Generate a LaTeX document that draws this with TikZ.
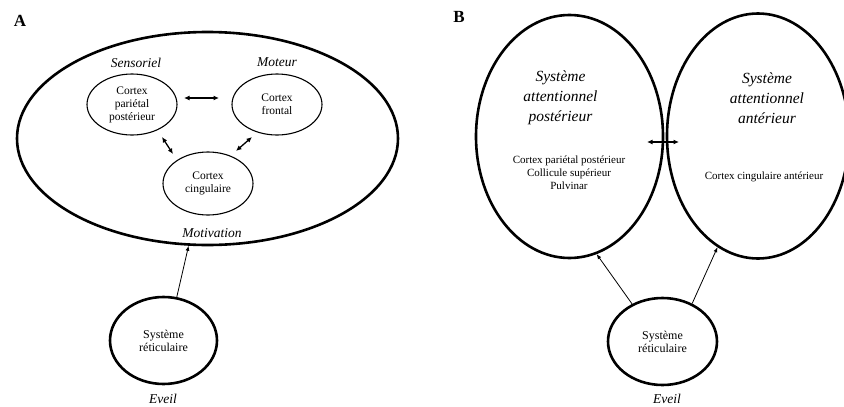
\documentclass[tikz,border=0pt]{standalone}
\usepackage{fontspec}
\setmainfont{Liberation Serif}
\usetikzlibrary{shapes.geometric,arrows.meta}
\begin{document}
\begin{tikzpicture}[x=1pt,y=-1pt,
  bigell/.style={ellipse,draw,line width=2.6pt,inner sep=0pt},
  smallell/.style={ellipse,draw,line width=1.1pt,inner sep=0pt,align=center,font=\fontsize{11.5}{13}\selectfont},
  retic/.style={ellipse,draw,line width=2.6pt,inner sep=0pt,align=center,font=\fontsize{12}{13}\selectfont},
  lab/.style={font=\fontsize{13.5}{16}\selectfont\itshape},
  biglab/.style={align=center,font=\fontsize{15.5}{20}\selectfont\itshape},
  smalltxt/.style={align=center,font=\fontsize{11}{12.8}\selectfont},
  panel/.style={font=\fontsize{17}{20}\selectfont\bfseries},
  arr/.style={-{Latex[length=5pt,width=4pt]},line width=0.8pt},
  darr/.style={{Latex[length=5.5pt,width=5pt]}-{Latex[length=5.5pt,width=5pt]},line width=1.3pt}]
\useasboundingbox (0,0) rectangle (844,407);

% ---------- Panel A ----------
\node[panel] (labA) at (20,21) {A};
\node[bigell,minimum width=381pt,minimum height=213pt] (bigA) at (207.5,138.5) {};
\node[smallell,minimum width=90pt,minimum height=61pt] (par) at (132,104.5) {Cortex\\pariétal\\postérieur};
\node[smallell,minimum width=90pt,minimum height=61pt] (fro) at (277,104.5) {Cortex\\frontal};
\node[smallell,minimum width=90pt,minimum height=63pt] (cin) at (208,183.5) {Cortex\\cingulaire};
\node[lab] (sens) at (136,63) {Sensoriel};
\node[lab] (mot) at (277,62) {Moteur};
\node[lab] (motiv) at (212,233) {Motivation};
\coordinate (h1) at (184,98);
\coordinate (h2) at (219,98);
\coordinate (d1) at (162,137);
\coordinate (d2) at (173,154);
\coordinate (d3) at (252,137);
\coordinate (d4) at (236,151);
\draw[darr] (h1) -- (h2);
\draw[darr] (d1) -- (d2);
\draw[darr] (d3) -- (d4);
\node[retic,minimum width=107pt,minimum height=87pt] (retA) at (163.5,340.5) {Système\\réticulaire};
\draw[arr] (retA.73) -- (bigA.260);
\node[lab,inner sep=0.5pt] (eveilA) at (163,399) {Eveil};

% ---------- Panel B ----------
\node[panel] (labB) at (459,17) {B};
\node[bigell,minimum width=187pt,minimum height=243pt] (post) at (569.5,136.5) {};
\node[bigell,minimum width=182pt,minimum height=245pt] (ant) at (758,136) {};
\node[biglab] (tpost) at (560.5,98) {Système\\attentionnel\\postérieur};
\node[biglab] (tant) at (767,98) {Système\\attentionnel\\antérieur};
\node[smalltxt] (lpost) at (569,172.5) {Cortex pariétal postérieur\\Collicule supérieur\\Pulvinar};
\node[smalltxt] (lant) at (764,177) {Cortex cingulaire antérieur};
\coordinate (b1) at (647,142);
\coordinate (b2) at (679,142);
\draw[darr] (b1) -- (b2);
\node[retic,minimum width=109pt,minimum height=87pt] (retB) at (662.5,341.5) {Système\\réticulaire};
\draw[arr] (retB.129) -- (post.283);
\draw[arr] (retB.52) -- (ant.250.6);
\node[lab,inner sep=0.5pt] (eveilB) at (667,399) {Eveil};
\end{tikzpicture}
\end{document}
